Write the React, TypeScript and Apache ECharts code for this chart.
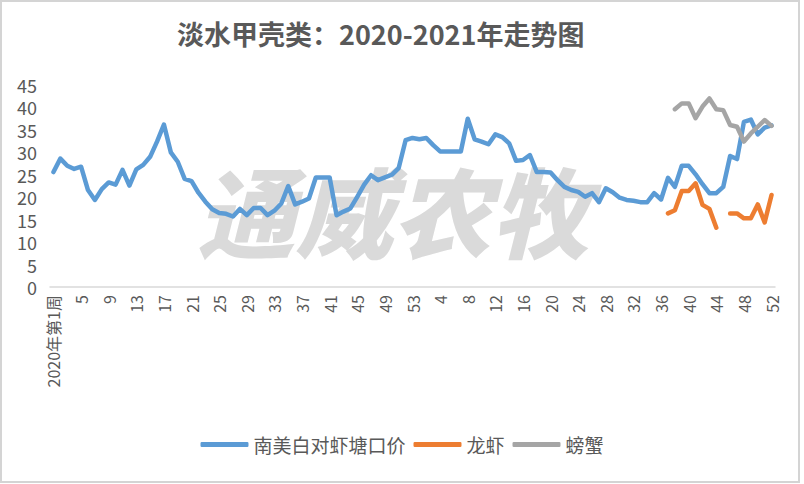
import React, { useEffect, useRef } from "react";
import * as echarts from "echarts";

const weeks2020 = ["2020年第1周","2","3","4","5","6","7","8","9","10","11","12","13","14","15","16","17","18","19","20","21","22","23","24","25","26","27","28","29","30","31","32","33","34","35","36","37","38","39","40","41","42","43","44","45","46","47","48","49","50","51","52","53"];
const weeks2021 = ["1","2","3","4","5","6","7","8","9","10","11","12","13","14","15","16","17","18","19","20","21","22","23","24","25","26","27","28","29","30","31","32","33","34","35","36","37","38","39","40","41","42","43","44","45","46","47","48","49","50","51","52"];
const categories = [...weeks2020, ...weeks2021];

const shrimp = [
  25.6, 28.6, 27, 26.3, 26.8, 21.6, 19.4, 21.8, 23.3, 22.8,
  26.1, 22.6, 26.2, 27.2, 29, 32.4, 36.2, 30, 27.9, 24.1,
  23.6, 21, 19, 17.3, 16.5, 16.3, 15.7, 17.4, 16, 17.6,
  17.6, 16, 17, 18.6, 22.5, 18.4, 19, 19.7, 24.4, 24.4,
  24.4, 16, 16.8, 17.5, 20.1, 22.8, 24.9, 23.8, 24.4, 25,
  26.5, 32.7, 33.2, 32.9, 33.2, 31.6, 30.2, 30.2, 30.2, 30.2,
  37.5, 32.9, 32.4, 31.8, 34, 33.4, 32, 28.1, 28.3, 29.4,
  25.6, 25.6, 25.5, 23.8, 22.3, 21.6, 21.2, 20.1, 20.9, 18.9,
  22, 21.1, 19.9, 19.4, 19.2, 18.9, 18.9, 20.9, 19.5, 24.3,
  22.3, 27, 27, 25.1, 22.9, 20.9, 20.9, 22.3, 29.2, 28.5,
  36.8, 37.3, 34, 35.5, 36
];

const crayfishIdx = [89, 90, 91, 92, 93, 94, 95, 96, 97, 98, 99, 100, 101, 102, 103, 104];
const crayfishVal = [16.4, 17.1, 21.4, 21.4, 23.1, 18.3, 17.4, 13.2, null, 16.4, 16.4, 15.3, 15.3, 18.4, 14.4, 20.5];

const crabIdx = [90, 91, 92, 93, 94, 95, 96, 97, 98, 99, 100, 101, 102, 103, 104];
const crabVal = [39.6, 40.9, 40.9, 37.6, 40.2, 42, 39.6, 39.4, 36.1, 35.7, 32.4, 34.2, 35.7, 37.2, 35.9];

const yTicks = [0, 45, 5];

function sparse(idx: number[], vals: (number | null)[]) {
  const out: (number | null | "-")[] = categories.map(() => "-");
  idx.forEach((k, j) => {
    out[k] = vals[j] === null ? "-" : vals[j];
  });
  return out;
}

const FONT = "Noto Sans CJK SC";
const TXT = "#595959";

export default function App() {
  const ref = useRef<HTMLDivElement>(null);
  useEffect(() => {
    if (!ref.current) return;
    const chart = echarts.init(ref.current, null, { renderer: "svg" });
    const lineStyle = (c: string) => ({ color: c, width: 4.5, cap: "round", join: "round" });
    chart.setOption({
      animation: false,
      backgroundColor: "#ffffff",
      textStyle: { fontFamily: FONT },
      title: {
        text: "淡水甲壳类：2020-2021年走势图",
        left: 172,
        top: 15,
        textStyle: { fontSize: 27, fontWeight: "bold", color: TXT, fontFamily: FONT },
      },
      graphic: [
        {
          type: "rect",
          shape: { x: 1, y: 1, width: 798, height: 481 },
          style: { fill: "none", stroke: "#d4d4d4", lineWidth: 2 },
          silent: true,
          z: -10,
        },
        {
          type: "text",
          x: 393,
          y: 208,
          style: {
            text: "通威农牧",
            font: `italic 900 98px "${FONT}"`,
            fill: "#dadada",
            textAlign: "center",
            textVerticalAlign: "middle",
          },
          silent: true,
          z: -5,
        },
      ],
      legend: {
        bottom: 25,
        left: "center",
        itemWidth: 48,
        itemHeight: 5,
        itemGap: 8,
        icon: "roundRect",
        textStyle: { fontSize: 19, color: TXT, fontFamily: FONT },
        data: ["南美白对虾塘口价", "龙虾", "螃蟹"],
      },
      grid: { left: 50, right: 29, top: 85, bottom: 197 },
      xAxis: {
        type: "category",
        data: categories,
        boundaryGap: true,
        axisLine: { lineStyle: { color: "#d9d9d9", width: 1.5 } },
        axisTick: { show: false },
        axisLabel: {
          interval: 3,
          rotate: 90,
          fontSize: 16,
          lineHeight: 16,
          color: TXT,
          margin: 8,
          fontFamily: FONT,
        },
      },
      yAxis: {
        type: "value",
        min: yTicks[0],
        max: yTicks[1],
        interval: yTicks[2],
        splitLine: { show: false },
        axisLine: { show: false },
        axisTick: { show: false },
        axisLabel: { fontSize: 18, lineHeight: 18, color: TXT, margin: 13, fontFamily: FONT },
      },
      series: [
        {
          name: "南美白对虾塘口价",
          type: "line",
          data: shrimp,
          showSymbol: false,
          symbol: "none",
          itemStyle: { color: "#5b9bd5" },
          lineStyle: lineStyle("#5b9bd5"),
          z: 3,
        },
        {
          name: "龙虾",
          type: "line",
          data: sparse(crayfishIdx, crayfishVal),
          showSymbol: false,
          symbol: "none",
          connectNulls: false,
          itemStyle: { color: "#ed7d31" },
          lineStyle: lineStyle("#ed7d31"),
          z: 3,
        },
        {
          name: "螃蟹",
          type: "line",
          data: sparse(crabIdx, crabVal),
          showSymbol: false,
          symbol: "none",
          itemStyle: { color: "#a5a5a5" },
          lineStyle: lineStyle("#a5a5a5"),
          z: 3,
        },
      ],
    });
    return () => chart.dispose();
  }, []);
  return (
    <div
      ref={ref}
      style={{ position: "fixed", left: 0, top: 0, width: 804, height: 484 }}
    />
  );
}
